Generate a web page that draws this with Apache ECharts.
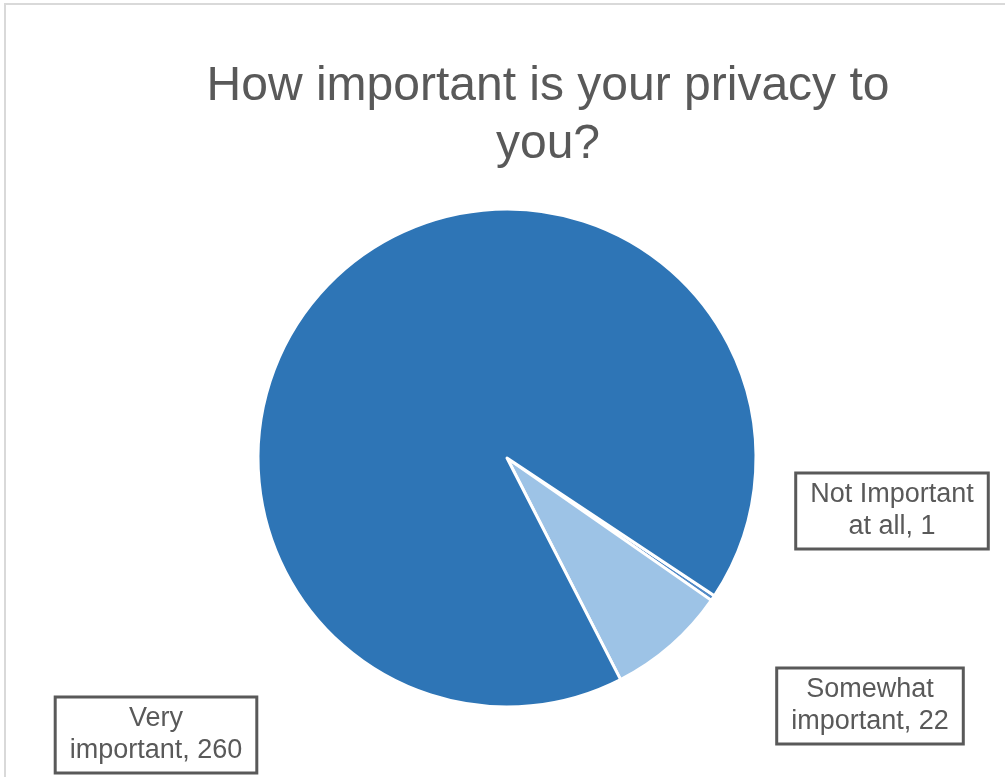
<!DOCTYPE html>
<html>
<head>
<meta charset="utf-8">
<style>
  html, body { margin: 0; padding: 0; background: #ffffff; }
  #chart { width: 1005px; height: 777px; }
</style>
<script src="https://cdn.jsdelivr.net/npm/echarts@6/dist/echarts.min.js"></script>
</head>
<body>
<div id="chart"></div>
<script>
// Survey answers and their counts
const categories = ['Not Important at all', 'Somewhat important', 'Very important'];
const counts = [1, 22, 260];
const sliceColors = ['#5089c6', '#9dc3e6', '#2e75b6'];

// Where each boxed data label sits (label centre, in px)
const labelSpots = [
  { x: 892, y: 511 },
  { x: 870, y: 706 },
  { x: 156, y: 735 }
];

// Greedy word wrap so each label line stays short
function wrapWords(text, maxChars) {
  const words = text.split(' ');
  const lines = [];
  let line = '';
  words.forEach(function (w) {
    const next = line ? line + ' ' + w : w;
    if (line && next.length > maxChars) {
      lines.push(line);
      line = w;
    } else {
      line = next;
    }
  });
  if (line) lines.push(line);
  return lines.join('\n');
}

const chart = echarts.init(document.getElementById('chart'), null, { renderer: 'canvas' });

const option = {
  backgroundColor: '#ffffff',
  animation: false,
  title: {
    text: 'How important is your privacy to\nyou?',
    left: 543,
    top: 53,
    textAlign: 'center',
    textStyle: {
      fontFamily: 'Liberation Sans, Arial, sans-serif',
      fontSize: 48,
      fontWeight: 'normal',
      color: '#595959',
      lineHeight: 58
    }
  },
  graphic: [
    {
      type: 'rect',
      shape: { x: 5, y: 4, width: 1010, height: 790 },
      style: { fill: 'none', stroke: '#d9d9d9', lineWidth: 2 },
      silent: true,
      z: -1
    }
  ],
  series: [
    {
      type: 'pie',
      center: [507, 458],
      radius: 249,
      startAngle: -33.6,
      clockwise: true,
      avoidLabelOverlap: false,
      itemStyle: { borderColor: '#ffffff', borderWidth: 3 },
      emphasis: { disabled: true },
      labelLine: { show: false },
      label: {
        show: true,
        position: 'outside',
        formatter: function (p) {
          return wrapWords(p.name + ', ' + p.value, 14);
        },
        fontFamily: 'Liberation Sans, Arial, sans-serif',
        fontSize: 27,
        lineHeight: 32,
        color: '#595959',
        align: 'center',
        backgroundColor: '#ffffff',
        borderColor: '#595959',
        borderWidth: 3,
        padding: [5, 13, 4, 13]
      },
      labelLayout: function (params) {
        const spot = labelSpots[params.dataIndex];
        return { x: spot.x, y: spot.y, align: 'center', verticalAlign: 'middle' };
      },
      data: categories.map((name, i) => ({
        name: name,
        value: counts[i],
        itemStyle: { color: sliceColors[i] }
      }))
    }
  ]
};

chart.setOption(option);
</script>
</body>
</html>
